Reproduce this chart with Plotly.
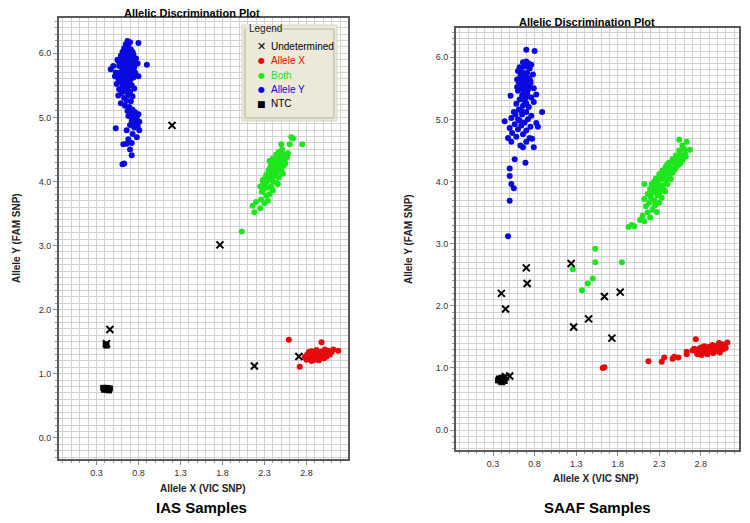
import plotly.graph_objects as go

# ---------------- DATA ----------------
# IAS samples (left panel)
ias_allele_y_x = [0.67,0.70,0.65,0.68,0.80,0.63,0.71,0.66,0.62,0.69,0.74,0.59,0.65,0.77,0.55,0.63,0.70,0.73,0.60,0.67,
                  0.79,0.90,0.50,0.57,0.64,0.71,0.75,0.47,0.61,0.68,0.73,0.58,0.65,0.70,0.77,0.52,0.62,0.67,0.74,0.56,
                  0.63,0.80,0.59,0.69,0.65,0.54,0.72,0.61,0.67,0.57,0.75,0.64,0.70,0.60,0.68,0.56,0.73,0.63,0.66,0.71,
                  0.59,0.64,0.69,0.73,0.67,0.76,0.71,0.80,0.68,0.74,0.78,0.72,0.81,0.76,0.70,0.79,0.53,0.75,0.66,0.81,
                  0.73,0.78,0.68,0.66,0.62,0.72,0.72,0.63,0.61,0.70,0.62,0.68,0.66,0.58,0.71,0.64,0.60,0.69,0.72,0.56,
                  0.76,0.67,0.62,0.66,0.61,0.73,0.58,0.53,0.65,0.70]
ias_allele_y_y = [6.19,6.17,6.14,6.11,6.16,6.08,6.06,6.04,6.00,6.00,5.98,5.96,5.95,5.92,5.90,5.90,5.90,5.86,5.85,5.85,
                  5.84,5.82,5.80,5.80,5.80,5.80,5.78,5.75,5.76,5.74,5.72,5.70,5.70,5.68,5.66,5.64,5.65,5.62,5.62,5.60,
                  5.58,5.64,5.55,5.55,5.52,5.52,5.50,5.48,5.46,5.44,5.45,5.42,5.40,5.38,5.35,5.34,5.33,5.30,5.26,5.25,
                  5.22,5.18,5.16,5.12,5.10,5.08,5.05,5.05,5.02,5.00,4.98,4.95,4.93,4.90,4.88,4.86,4.83,4.84,4.80,4.80,
                  4.74,4.69,4.66,4.59,4.58,4.60,4.41,4.28,4.27,4.50,5.92,5.95,5.78,5.66,5.60,5.62,5.58,5.78,5.92,5.88,
                  5.70,5.66,5.50,5.40,6.02,6.02,5.84,5.70,5.88,5.52]

ias_both_x = [2.03,2.18,2.16,2.20,2.25,2.26,2.30,2.34,2.32,2.36,2.29,2.25,2.31,2.38,2.33,2.28,2.40,2.44,2.36,2.42,
              2.32,2.47,2.38,2.45,2.35,2.41,2.50,2.44,2.38,2.48,2.53,2.42,2.46,2.51,2.40,2.55,2.49,2.44,2.53,2.58,
              2.47,2.51,2.57,2.36,2.50,2.60,2.62,2.64,2.75,2.30,2.27,2.40,2.34,2.43,2.37,2.55,2.52,2.48,2.46,2.28]
ias_both_y = [3.22,3.52,3.62,3.68,3.58,3.72,3.66,3.70,3.78,3.80,3.88,3.92,3.95,3.92,4.00,4.02,4.00,3.98,4.05,4.08,
              4.10,4.06,4.12,4.14,4.18,4.20,4.18,4.24,4.26,4.28,4.25,4.30,4.34,4.32,4.36,4.36,4.40,4.42,4.42,4.44,
              4.46,4.50,4.38,4.32,4.58,4.58,4.69,4.67,4.58,4.04,3.84,3.86,3.90,4.16,4.22,4.28,4.12,4.22,3.96,3.95]

ias_allele_x_x = [2.59,2.98,2.72,3.18,2.78,2.80,2.82,2.84,2.85,2.86,2.88,2.89,2.90,2.91,2.93,2.94,2.95,2.96,2.97,2.99,
                  3.00,3.01,3.03,3.04,3.06,3.08,3.10,3.12,2.83,2.87,2.92,2.98,3.02,2.95,2.89,2.81,3.05,2.93,2.86]
ias_allele_x_y = [1.53,1.49,1.11,1.36,1.26,1.22,1.28,1.24,1.31,1.20,1.26,1.33,1.22,1.29,1.25,1.34,1.21,1.30,1.26,1.35,
                  1.28,1.24,1.32,1.27,1.36,1.30,1.34,1.38,1.34,1.29,1.37,1.31,1.38,1.27,1.24,1.30,1.31,1.30,1.35]

ias_undet_x = [1.20, 1.77, 0.46, 2.18, 2.71, 0.42, 0.43]
ias_undet_y = [4.875, 3.01, 1.69, 1.12, 1.27, 1.47, 0.76]

ias_ntc_x = [0.41, 0.42, 0.38, 0.40, 0.42, 0.44, 0.46, 0.39, 0.45]
ias_ntc_y = [1.46, 1.44, 0.78, 0.77, 0.78, 0.76, 0.77, 0.75, 0.74]

# SAAF samples (right panel)
saaf_allele_y_x = [0.70,0.80,0.66,0.70,0.76,0.62,0.68,0.74,0.60,0.65,0.71,0.78,0.63,0.68,0.73,0.59,0.66,0.70,0.75,0.62,
                   0.68,0.73,0.64,0.79,0.60,0.67,0.71,0.65,0.70,0.76,0.51,0.62,0.68,0.79,0.58,0.66,0.73,0.61,0.55,0.70,
                   0.89,0.65,0.76,0.52,0.60,0.72,0.44,0.68,0.82,0.56,0.64,0.75,0.50,0.60,0.70,0.53,0.66,0.48,0.58,0.74,
                   0.77,0.52,0.63,0.66,0.79,0.69,0.56,0.50,0.50,0.52,0.55,0.50,0.48,0.64,0.69,0.61,0.72,0.66,0.63,0.73,
                   0.67,0.59,0.75,0.70,0.64,0.82,0.57,0.62,0.70,0.84]
saaf_allele_y_y = [6.12,6.10,5.92,5.93,5.88,5.84,5.85,5.82,5.78,5.76,5.75,5.72,5.70,5.68,5.66,5.64,5.62,5.60,5.58,5.56,
                   5.54,5.52,5.50,5.50,5.46,5.45,5.42,5.38,5.36,5.35,5.38,5.32,5.30,5.28,5.25,5.22,5.20,5.16,5.12,5.12,
                   5.12,5.08,5.06,5.02,5.00,5.00,4.97,4.95,4.94,4.92,4.90,4.88,4.86,4.84,4.82,4.78,4.76,4.70,4.72,4.70,
                   4.69,4.64,4.58,4.55,4.55,4.30,4.36,4.21,4.09,3.96,3.89,3.69,3.12,5.66,5.72,5.60,5.48,5.40,5.82,5.90,
                   5.50,5.52,5.62,5.26,5.14,5.40,5.08,4.98,4.64,4.88]

saaf_both_x = [1.93,1.97,2.00,2.07,2.10,2.12,2.16,2.19,2.27,2.22,2.14,2.18,2.12,2.20,2.24,2.16,2.22,2.28,2.12,2.19,
               2.25,2.31,2.21,2.28,2.34,2.26,2.32,2.38,2.30,2.36,2.42,2.34,2.40,2.46,2.38,2.44,2.50,2.42,2.48,2.54,
               2.46,2.52,2.58,2.50,2.56,2.61,2.54,2.60,2.67,2.58,2.63,2.54,2.30,2.26,2.35,2.29,2.40,2.24,2.44,2.37,
               2.33,2.48,2.52,2.56,2.62,2.40,2.35,2.30,2.25,
               1.53,1.53,1.85,1.26,1.50,1.44,1.37]
saaf_both_y = [3.27,3.30,3.28,3.38,3.45,3.36,3.50,3.42,3.51,3.55,3.60,3.66,3.72,3.74,3.70,3.80,3.82,3.78,3.96,3.88,
               3.90,3.86,3.96,3.98,3.94,4.05,4.04,4.02,4.12,4.10,4.08,4.18,4.16,4.14,4.24,4.22,4.22,4.30,4.30,4.28,
               4.36,4.36,4.34,4.42,4.42,4.45,4.50,4.52,4.51,4.58,4.64,4.67,3.80,3.84,3.88,3.92,3.96,4.00,4.04,3.84,
               3.74,4.18,4.26,4.30,4.40,4.28,4.14,3.66,3.62,
               2.92,2.70,2.70,2.59,2.44,2.36,2.25]

saaf_allele_x_x = [1.62,1.64,2.17,2.33,2.36,2.46,2.48,2.53,2.63,2.63,2.74,2.70,2.72,2.75,2.77,2.78,2.80,2.81,2.82,2.84,
                   2.85,2.86,2.88,2.89,2.90,2.91,2.93,2.94,2.95,2.96,2.97,2.99,3.00,3.01,3.03,3.04,3.06,3.07,3.09,3.12,
                   2.79,2.87,2.92,2.98,3.02,2.83,2.76,3.10]
saaf_allele_x_y = [1.00,1.01,1.11,1.10,1.17,1.15,1.18,1.17,1.26,1.22,1.46,1.28,1.31,1.26,1.30,1.24,1.33,1.21,1.28,1.35,
                   1.25,1.31,1.22,1.28,1.34,1.26,1.31,1.37,1.24,1.29,1.33,1.27,1.36,1.30,1.25,1.33,1.38,1.30,1.35,1.41,
                   1.27,1.29,1.27,1.31,1.40,1.31,1.22,1.32]

saaf_undet_x = [0.70, 0.71, 0.40, 0.45, 1.24, 1.27, 1.45, 1.64, 1.83, 1.73, 0.50, 0.45]
saaf_undet_y = [2.61, 2.36, 2.20, 1.95, 2.68, 1.66, 1.79, 2.15, 2.22, 1.48, 0.87, 0.86]

saaf_ntc_x = [0.36, 0.38, 0.40, 0.42, 0.44, 0.39, 0.41, 0.43, 0.37, 0.40]
saaf_ntc_y = [0.80, 0.82, 0.84, 0.81, 0.79, 0.78, 0.77, 0.85, 0.83, 0.80]

panel_titles = ["Allelic Discrimination Plot", "Allelic Discrimination Plot"]
panel_labels = ["IAS Samples", "SAAF Samples"]
x_title = "Allele X (VIC SNP)"
y_title = "Allele Y (FAM SNP)"
legend_title = "Legend"
legend_names = ["Undetermined", "Allele X", "Both", "Allele Y", "NTC"]

# ---------------- STYLE ----------------
W, H = 750, 523
BLUE, GREEN, RED, BLACK = "#0a0ae0", "#1ee61e", "#e60a0a", "#000000"
NARROW = "Liberation Sans Narrow, Arial Narrow, Liberation Sans, Arial, sans-serif"
SANS = "Liberation Sans, Arial, sans-serif"
GLYPH = "DejaVu Sans, sans-serif"


def px(x):
    return x / W


def py(y):
    return 1 - y / H


fig = go.Figure()

series = [
    ("Allele Y", BLUE, "circle", 6, (ias_allele_y_x, ias_allele_y_y), (saaf_allele_y_x, saaf_allele_y_y)),
    ("Both", GREEN, "circle", 6, (ias_both_x, ias_both_y), (saaf_both_x, saaf_both_y)),
    ("Allele X", RED, "circle", 6, (ias_allele_x_x, ias_allele_x_y), (saaf_allele_x_x, saaf_allele_x_y)),
    ("NTC", BLACK, "square", 6, (ias_ntc_x, ias_ntc_y), (saaf_ntc_x, saaf_ntc_y)),
    ("Undetermined", BLACK, "x-thin", 7, (ias_undet_x, ias_undet_y), (saaf_undet_x, saaf_undet_y)),
]

for name, color, sym, size, left, right in series:
    if sym == "x-thin":
        mk = dict(symbol=sym, size=size, color=color, line=dict(width=2, color=color))
    else:
        mk = dict(symbol=sym, size=size, color=color, line=dict(width=0))
    fig.add_trace(go.Scatter(x=left[0], y=left[1], mode="markers", marker=mk, name=name,
                             showlegend=False, xaxis="x", yaxis="y"))
    fig.add_trace(go.Scatter(x=right[0], y=right[1], mode="markers", marker=mk, name=name,
                             showlegend=False, xaxis="x2", yaxis="y2"))

GRID = "#d2d2d2"


def axis_common():
    return dict(showgrid=True, gridcolor=GRID, gridwidth=1, zeroline=False,
                showline=True, linecolor="#5a5a5a", linewidth=2, mirror=True,
                ticks="outside", ticklen=4, tickcolor="#888",
                tickfont=dict(family=SANS, size=9, color="#333"),
                minor=dict(dtick=0.1, showgrid=True, gridcolor=GRID, ticks="outside", ticklen=2, tickcolor="#999"))


def xax(domain, anchor, rng):
    d = axis_common()
    d.update(domain=domain, anchor=anchor, range=rng, tick0=0.3, dtick=0.5, tickformat=".1f")
    return d


def yax(domain, anchor, rng):
    d = axis_common()
    d.update(domain=domain, anchor=anchor, range=rng, tick0=0, dtick=1, tickformat=".1f")
    return d


L = dict(x0=59, x1=348, y0=18, y1=459)
R = dict(x0=456, x1=739, y0=28, y1=450)

fig.update_layout(
    width=W, height=H, margin=dict(l=0, r=0, t=0, b=0),
    paper_bgcolor="white", plot_bgcolor="white",
    xaxis=xax([px(L["x0"]), px(L["x1"])], "y", [-0.146, 3.295]),
    yaxis=yax([py(L["y1"]), py(L["y0"])], "x", [-0.33, 6.55]),
    xaxis2=xax([px(R["x0"]), px(R["x1"])], "y2", [-0.146, 3.26]),
    yaxis2=yax([py(R["y1"]), py(R["y0"])], "x2", [-0.32, 6.47]),
    showlegend=False,
)

# ---- legend panel (drawn as shapes + text) ----
shapes = [
    dict(type="rect", xref="paper", yref="paper", x0=px(242), x1=px(337), y0=py(121), y1=py(25),
         fillcolor="#ece9d8", line=dict(color="#d8d4c4", width=1), layer="above"),
    dict(type="rect", xref="paper", yref="paper", x0=px(245), x1=px(334), y0=py(118), y1=py(29),
         fillcolor="rgba(0,0,0,0)", line=dict(color="#b5b19e", width=1), layer="above"),
    dict(type="rect", xref="paper", yref="paper", x0=px(246), x1=px(272), y0=py(33), y1=py(24),
         fillcolor="#ece9d8", line=dict(width=0), layer="above"),
]

ann = []
ann.append(dict(x=px(247), y=py(28.5), xanchor="left", text=legend_title,
                font=dict(family=SANS, size=10, color="#222")))
legend_rows = [46.5, 61, 75, 89, 103.5]
legend_glyphs = [("✕", BLACK, 11), ("●", RED, 8), ("●", GREEN, 8), ("●", BLUE, 8), ("■", BLACK, 9)]
for name, (g, col, gs), yy in zip(legend_names, legend_glyphs, legend_rows):
    ann.append(dict(x=px(261.5), y=py(yy), text=f"<b>{g}</b>" if g == "✕" else g,
                    font=dict(family=GLYPH, size=gs, color=col)))
    ann.append(dict(x=px(269), y=py(yy), xanchor="left", text=name,
                    font=dict(family=SANS, size=10, color=col)))

# panel titles
ann.append(dict(x=px(192), y=py(13), text=f"<b>{panel_titles[0]}</b>", font=dict(family=NARROW, size=11, color="#000")))
ann.append(dict(x=px(587), y=py(22), text=f"<b>{panel_titles[1]}</b>", font=dict(family=NARROW, size=11, color="#000")))
# axis titles
ann.append(dict(x=px(203), y=py(488), text=f"<b>{x_title}</b>", font=dict(family=NARROW, size=10, color="#222")))
ann.append(dict(x=px(596), y=py(478), text=f"<b>{x_title}</b>", font=dict(family=NARROW, size=10, color="#222")))
ann.append(dict(x=px(17), y=py(238), text=f"<b>{y_title}</b>", textangle=-90, font=dict(family=NARROW, size=10, color="#222")))
ann.append(dict(x=px(409), y=py(239), text=f"<b>{y_title}</b>", textangle=-90, font=dict(family=NARROW, size=10, color="#222")))
# bottom labels
ann.append(dict(x=px(202), y=py(507), text=f"<b>{panel_labels[0]}</b>", font=dict(family=SANS, size=15, color="#000")))
ann.append(dict(x=px(597), y=py(507), text=f"<b>{panel_labels[1]}</b>", font=dict(family=SANS, size=15, color="#000")))

for a in ann:
    a.setdefault("xanchor", "center")
    a.update(xref="paper", yref="paper", showarrow=False, yanchor="middle")
fig.update_layout(annotations=ann, shapes=shapes)

fig.write_html("out.html", config={"displayModeBar": False},
               post_script="document.body.style.margin='0';")
